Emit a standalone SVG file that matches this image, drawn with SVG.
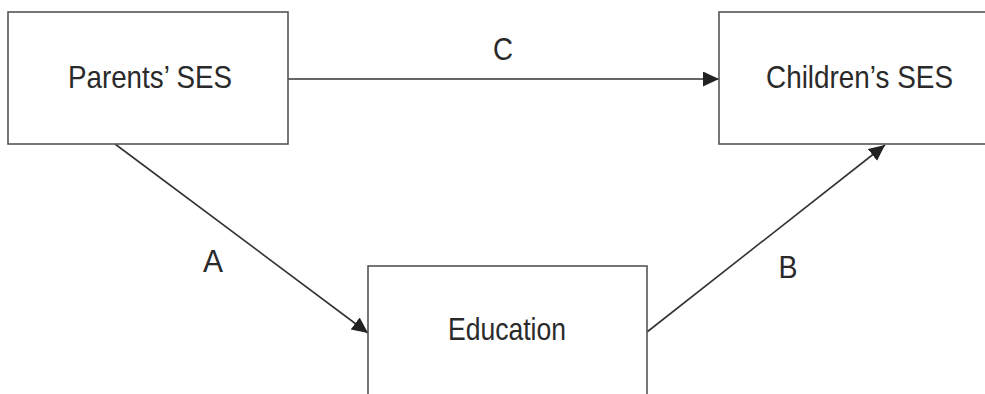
<svg xmlns="http://www.w3.org/2000/svg" width="985" height="394" viewBox="0 0 985 394">
  <defs>
    <style>
      .box { fill: #ffffff; stroke: #555555; stroke-width: 1.6; }
      .lbl { font-family: "Liberation Sans", Arial, sans-serif; font-size: 32px; fill: #2a2a2a; text-anchor: middle; }
      .edge { fill: none; stroke: #333333; stroke-width: 1.6; }
    </style>
    <marker id="arrow" markerUnits="userSpaceOnUse" markerWidth="18" markerHeight="16" refX="16" refY="7.5" orient="auto">
      <path d="M0,0 L16,7.5 L0,15 Z" fill="#222222"/>
    </marker>
  </defs>
  <rect width="985" height="394" fill="#ffffff"/>
  <g id="connectors">
    <line class="edge" x1="288" y1="79" x2="719" y2="79" marker-end="url(#arrow)"/>
    <line class="edge" x1="115" y1="144" x2="368" y2="333" marker-end="url(#arrow)"/>
    <line class="edge" x1="647" y1="332" x2="885" y2="145" marker-end="url(#arrow)"/>
    <text class="lbl" x="503" y="60" textLength="20" lengthAdjust="spacingAndGlyphs">C</text>
    <text class="lbl" x="213" y="272" textLength="20" lengthAdjust="spacingAndGlyphs">A</text>
    <text class="lbl" x="788" y="278" textLength="19" lengthAdjust="spacingAndGlyphs">B</text>
  </g>
  <g id="parents">
    <rect class="box" x="8" y="12" width="280" height="132"/>
    <text class="lbl" x="150" y="88" textLength="164" lengthAdjust="spacingAndGlyphs">Parents’ SES</text>
  </g>
  <g id="children">
    <rect class="box" x="719" y="12" width="280" height="132"/>
    <text class="lbl" x="859.5" y="88" textLength="187" lengthAdjust="spacingAndGlyphs">Children’s SES</text>
  </g>
  <g id="education">
    <rect class="box" x="368" y="266" width="279" height="140"/>
    <text class="lbl" x="507" y="340" textLength="118" lengthAdjust="spacingAndGlyphs">Education</text>
  </g>
</svg>
